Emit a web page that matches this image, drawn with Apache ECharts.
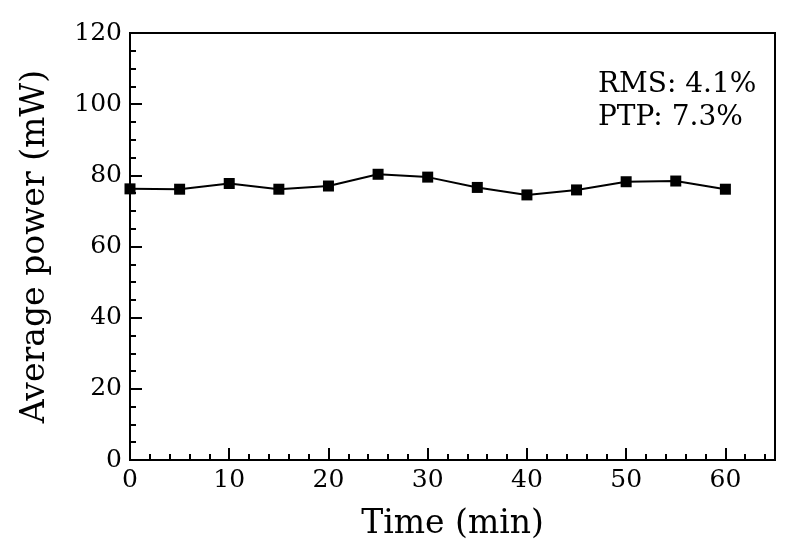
<!DOCTYPE html>
<html>
<head>
<meta charset="utf-8">
<script src="https://cdn.jsdelivr.net/npm/echarts@6/dist/echarts.min.js"></script>
<style>html,body{margin:0;padding:0;background:#fff}#c{width:795px;height:556px}</style>
</head>
<body>
<div id="c"></div>
<script>
// Data
var times = [0, 5, 10, 15, 20, 25, 30, 35, 40, 45, 50, 55, 60];
var power = [76.2, 76.1, 77.7, 76.1, 77.0, 80.3, 79.5, 76.6, 74.5, 75.9, 78.2, 78.4, 76.1];
var xTickLabels = ['0', '10', '20', '30', '40', '50', '60'];
var annotations = ['RMS: 4.1%', 'PTP: 7.3%'];
var xTitle = 'Time (min)';
var yTitle = 'Average power (mW)';

var FONT = 'DejaVu Serif';
var chart = echarts.init(document.getElementById('c'), null, {renderer: 'canvas'});
var pts = times.map(function (t, i) { return [t, power[i]]; });

chart.setOption({
  animation: false,
  backgroundColor: '#fff',
  grid: {left: 130, top: 33, right: 20, bottom: 96, show: true, borderColor: '#000', borderWidth: 2, backgroundColor: 'transparent'},
  xAxis: [{
    type: 'value', min: 0, max: 65, interval: 2, minInterval: 2, maxInterval: 2,
    name: xTitle, nameLocation: 'middle', nameGap: 48,
    nameTextStyle: {fontFamily: FONT, fontSize: 33, color: '#000'},
    axisLine: {show: true, onZero: false, lineStyle: {color: '#000', width: 2}},
    axisTick: {show: true, inside: true, length: 6, lineStyle: {color: '#000', width: 2}},
    axisLabel: {
      fontFamily: FONT, fontSize: 25, color: '#000', margin: 8, showMaxLabel: false,
      formatter: function (v) { var s = String(v); return xTickLabels.indexOf(s) >= 0 ? s : ''; }
    },
    splitLine: {show: false}
  }, {
    type: 'value', min: 0, max: 65, interval: 10, position: 'bottom', offset: 0,
    axisLine: {show: false},
    axisTick: {show: true, inside: true, length: 12, lineStyle: {color: '#000', width: 2}},
    axisLabel: {show: false},
    splitLine: {show: false}
  }],
  yAxis: {
    type: 'value', min: 0, max: 120, interval: 20,
    name: yTitle, nameLocation: 'middle', nameGap: 78,
    nameTextStyle: {fontFamily: FONT, fontSize: 33, color: '#000'},
    axisLine: {show: true, onZero: false, lineStyle: {color: '#000', width: 2}},
    axisTick: {show: true, inside: true, length: 12, lineStyle: {color: '#000', width: 2}},
    minorTick: {show: true, splitNumber: 4, length: 6, lineStyle: {color: '#000', width: 2}},
    axisLabel: {fontFamily: FONT, fontSize: 25, color: '#000', margin: 8},
    splitLine: {show: false}
  },
  graphic: [
    {type: 'text', left: 598, top: 71, style: {text: annotations[0], font: '28px "DejaVu Serif"', fill: '#000'}},
    {type: 'text', left: 598, top: 104, style: {text: annotations[1], font: '28px "DejaVu Serif"', fill: '#000'}}
  ],
  series: [{
    type: 'line', data: pts, xAxisIndex: 0,
    symbol: 'rect', symbolSize: 11,
    lineStyle: {color: '#000', width: 2},
    itemStyle: {color: '#000'}
  }]
});
</script>
</body>
</html>
